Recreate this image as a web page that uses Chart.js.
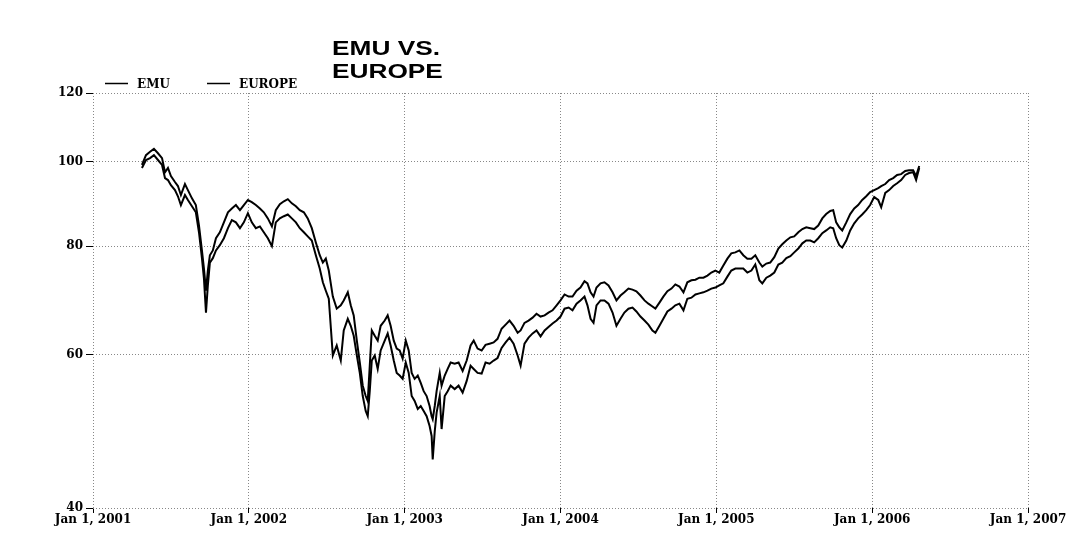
<!DOCTYPE html>
<html>
<head>
<meta charset="utf-8">
<script src="https://cdn.jsdelivr.net/npm/chart.js@4.4.1/dist/chart.umd.min.js"></script>
<style>
  html, body { margin: 0; padding: 0; background: #fff; }
  #wrap { width: 1089px; height: 539px; position: relative; }
</style>
</head>
<body>
<div id="wrap"><canvas id="emuChart"></canvas></div>
<script>
// dates as decimal years
const years = [
  2001.314,2001.340,2001.366,2001.391,2001.417,2001.443,2001.462,2001.481,2001.500,2001.526,
  2001.545,2001.564,2001.590,2001.609,2001.635,2001.660,2001.680,2001.699,2001.712,2001.725,
  2001.737,2001.750,2001.769,2001.789,2001.814,2001.840,2001.866,2001.891,2001.917,2001.943,2001.968,
  2001.994,2002.019,2002.045,2002.071,2002.096,2002.122,2002.148,2002.173,2002.199,2002.225,
  2002.250,2002.276,2002.302,2002.327,2002.353,2002.378,2002.404,2002.430,2002.455,2002.475,
  2002.494,2002.513,2002.539,2002.564,2002.590,2002.609,2002.635,2002.654,2002.673,2002.693,
  2002.712,2002.731,2002.750,2002.763,2002.776,2002.789,2002.808,2002.827,2002.846,2002.872,
  2002.891,2002.910,2002.930,2002.949,2002.968,
  2002.987,2003.007,2003.026,2003.045,2003.064,2003.084,2003.103,2003.122,2003.141,2003.160,
  2003.173,2003.180,2003.193,2003.205,2003.225,2003.237,2003.257,2003.276,2003.295,2003.321,
  2003.346,2003.372,2003.398,2003.423,2003.443,2003.468,2003.494,2003.519,2003.545,2003.571,
  2003.596,2003.622,2003.648,2003.673,2003.699,2003.725,2003.744,2003.769,2003.795,2003.821,
  2003.846,2003.872,2003.898,2003.923,2003.949,2003.975,
  2004.000,2004.026,2004.052,2004.077,2004.103,2004.128,2004.154,2004.173,2004.193,2004.212,
  2004.231,2004.257,2004.282,2004.308,2004.334,2004.359,2004.385,2004.410,2004.436,2004.462,
  2004.487,2004.513,2004.539,2004.564,2004.590,2004.609,2004.635,2004.660,2004.686,2004.712,
  2004.737,2004.763,2004.789,2004.814,2004.840,2004.866,2004.891,2004.917,2004.943,2004.968,
  2004.994,2005.019,2005.045,2005.071,2005.096,2005.122,2005.148,2005.173,2005.199,2005.225,
  2005.250,2005.276,2005.295,2005.321,2005.346,2005.372,2005.398,2005.423,2005.449,2005.475,
  2005.500,2005.526,2005.552,2005.577,2005.603,2005.628,2005.654,2005.680,2005.705,2005.731,
  2005.750,2005.769,2005.789,2005.808,2005.834,2005.859,2005.885,2005.910,2005.936,2005.962,
  2005.987,2006.013,2006.039,2006.058,2006.084,2006.109,2006.135,2006.160,2006.186,2006.212,
  2006.237,2006.263,2006.282,2006.302
];

const emu = [
  99.2,101.8,102.7,103.5,102.3,101.0,97.3,98.4,96.3,94.8,
  93.8,91.6,94.3,92.8,90.8,89.2,84.5,79.1,75.4,71.1,
  75.0,78.1,79.1,81.7,83.0,85.2,87.5,88.4,89.2,88.0,89.2,
  90.4,89.9,89.2,88.4,87.5,86.1,84.3,88.0,89.4,90.1,
  90.6,89.6,88.9,88.0,87.5,86.1,83.9,80.8,78.1,76.6,
  77.4,75.0,70.0,67.8,68.4,69.3,70.8,68.4,66.6,62.3,
  58.8,55.3,53.8,53.1,58.3,64.0,63.1,62.3,64.8,65.7,
  66.6,64.8,62.3,61.0,60.7,
  59.4,62.3,60.7,57.2,56.3,56.8,55.7,54.5,53.8,52.4,
  51.0,50.6,52.4,54.5,57.2,55.3,56.8,57.8,58.8,58.6,
  58.8,57.5,59.1,61.5,62.3,61.0,60.7,61.6,61.8,62.0,
  62.6,64.3,65.0,65.7,64.8,63.6,64.0,65.3,65.7,66.2,
  66.9,66.4,66.6,67.1,67.5,68.4,
  69.3,70.4,70.0,70.0,71.1,71.7,72.9,72.5,70.8,70.0,
  71.7,72.5,72.7,72.1,70.8,69.3,70.2,70.8,71.5,71.3,
  71.0,70.2,69.3,68.7,68.2,67.8,68.9,70.0,71.0,71.5,
  72.3,71.9,70.8,72.7,73.1,73.2,73.6,73.6,74.0,74.6,
  75.0,74.6,76.0,77.4,78.5,78.7,79.1,78.1,77.4,77.4,
  78.1,76.6,75.8,76.4,76.6,77.7,79.5,80.4,81.2,81.9,
  82.1,83.0,83.7,84.1,83.9,83.7,84.5,86.1,87.1,87.8,
  88.0,85.2,84.1,83.4,85.2,87.1,88.4,89.2,90.4,91.3,
  92.3,92.8,93.3,93.8,94.3,95.3,95.8,96.6,96.8,97.6,
  97.8,97.8,96.3,98.9
];

const europe = [
  98.4,100.5,101.0,101.8,100.5,99.2,95.8,95.3,94.0,92.8,
  91.3,89.2,91.6,90.4,88.9,87.5,83.0,77.5,73.4,67.1,
  72.1,76.6,77.5,79.1,80.2,81.7,83.9,85.7,85.2,83.9,85.2,
  87.3,85.2,83.9,84.3,83.0,81.7,80.0,85.2,86.1,86.6,
  87.0,86.1,85.2,83.9,83.0,82.1,81.2,78.1,75.4,72.7,
  71.1,69.6,59.9,61.5,59.1,64.0,66.0,64.8,63.1,59.9,
  57.2,53.8,51.7,51.0,54.5,59.1,59.9,57.8,60.7,62.3,
  63.5,61.5,59.1,57.2,56.8,
  56.3,58.8,57.2,53.8,53.1,52.0,52.4,51.7,51.0,49.7,
  48.4,45.5,49.0,51.5,53.8,49.3,53.8,54.5,55.3,54.8,
  55.3,54.3,56.0,58.3,57.8,57.2,57.1,58.8,58.6,59.1,
  59.5,61.1,62.0,62.8,61.8,59.9,58.3,61.8,62.8,63.5,
  64.0,63.0,64.0,64.6,65.2,65.7,
  66.4,67.8,68.0,67.5,68.7,69.3,70.0,68.4,66.0,65.3,
  68.4,69.3,69.3,68.7,67.1,64.8,66.0,67.1,67.8,68.0,
  67.3,66.4,65.7,65.0,64.0,63.6,64.8,66.0,67.3,67.8,
  68.4,68.7,67.5,69.6,69.8,70.4,70.6,70.8,71.1,71.5,
  71.7,72.1,72.5,73.8,75.0,75.4,75.4,75.4,74.6,75.0,
  76.2,73.1,72.5,73.6,74.0,74.6,76.2,76.6,77.5,77.9,
  78.7,79.5,80.6,81.2,81.2,80.8,81.7,82.8,83.4,84.1,
  83.9,81.7,80.2,79.7,81.2,83.4,85.0,86.1,87.0,88.0,
  89.2,91.1,90.4,88.7,92.1,92.8,93.8,94.5,95.3,96.6,
  97.1,97.3,95.3,98.4
];

const seriesNames = ['EMU', 'EUROPE'];
const titleLines = ['EMU VS.', 'EUROPE'];
const yTicks = [40, 60, 80, 100, 120];
const xTicks = [2001, 2002, 2003, 2004, 2005, 2006, 2007];

const tickFont = { family: '"DejaVu Serif", serif', size: 12, weight: 'bold' };

// title + legend drawn by hand, positions
const headerPlugin = {
  id: 'header',
  afterDraw(chart) {
    const ctx = chart.ctx;
    ctx.save();
    ctx.fillStyle = '#000';
    ctx.font = 'bold 21px "Liberation Sans", Arial, sans-serif';
    titleLines.forEach((line, i) => {
      ctx.save();
      ctx.translate(332, 55 + i * 23);
      ctx.scale(1.25, 1);
      ctx.fillText(line, 0, 0);
      ctx.restore();
    });

    const legendX = [105, 207];
    ctx.font = 'bold 12px "DejaVu Serif", serif';
    ctx.strokeStyle = '#000';
    ctx.lineWidth = 1.5;
    seriesNames.forEach((name, i) => {
      ctx.beginPath();
      ctx.moveTo(legendX[i], 83.5);
      ctx.lineTo(legendX[i] + 23, 83.5);
      ctx.stroke();
      ctx.fillText(name, legendX[i] + 32, 88);
    });
    ctx.restore();
  }
};

const ctx = document.getElementById('emuChart').getContext('2d');
const emuChart = new Chart(ctx, {
  type: 'line',
  data: {
    datasets: [
      {
        label: seriesNames[0],
        data: years.map((t, i) => ({ x: t, y: emu[i] })),
        borderColor: '#000',
        borderWidth: 2,
        pointRadius: 0,
        tension: 0
      },
      {
        label: seriesNames[1],
        data: years.map((t, i) => ({ x: t, y: europe[i] })),
        borderColor: '#000',
        borderWidth: 2,
        pointRadius: 0,
        tension: 0
      }
    ]
  },
  options: {
    responsive: true,
    maintainAspectRatio: false,
    animation: false,
    layout: { padding: { top: 93, right: 61, left: 0, bottom: 0 } },
    scales: {
      x: {
        type: 'linear',
        min: 2001,
        max: 2007,
        afterBuildTicks: s => { s.ticks = xTicks.map(v => ({ value: v })); },
        afterFit: s => { s.height = 31; },
        ticks: {
          color: '#000',
          font: tickFont,
          padding: 0,
          maxRotation: 0,
          callback: v => 'Jan 1, ' + v
        },
        grid: { color: '#888', tickColor: '#000', tickLength: 5, lineWidth: 1 },
        border: { display: false, dash: [1, 2] }
      },
      y: {
        type: 'logarithmic',
        min: 40,
        max: 120,
        afterBuildTicks: s => { s.ticks = yTicks.map(v => ({ value: v })); },
        afterFit: s => { s.width = 93; },
        ticks: {
          color: '#000',
          font: tickFont,
          padding: 3,
          callback: v => String(v)
        },
        grid: { color: '#888', tickColor: '#000', tickLength: 7, lineWidth: 1 },
        border: { display: false, dash: [1, 2] }
      }
    },
    plugins: {
      legend: { display: false },
      title: { display: false },
      tooltip: { enabled: false }
    }
  },
  plugins: [headerPlugin]
});
</script>
</body>
</html>
